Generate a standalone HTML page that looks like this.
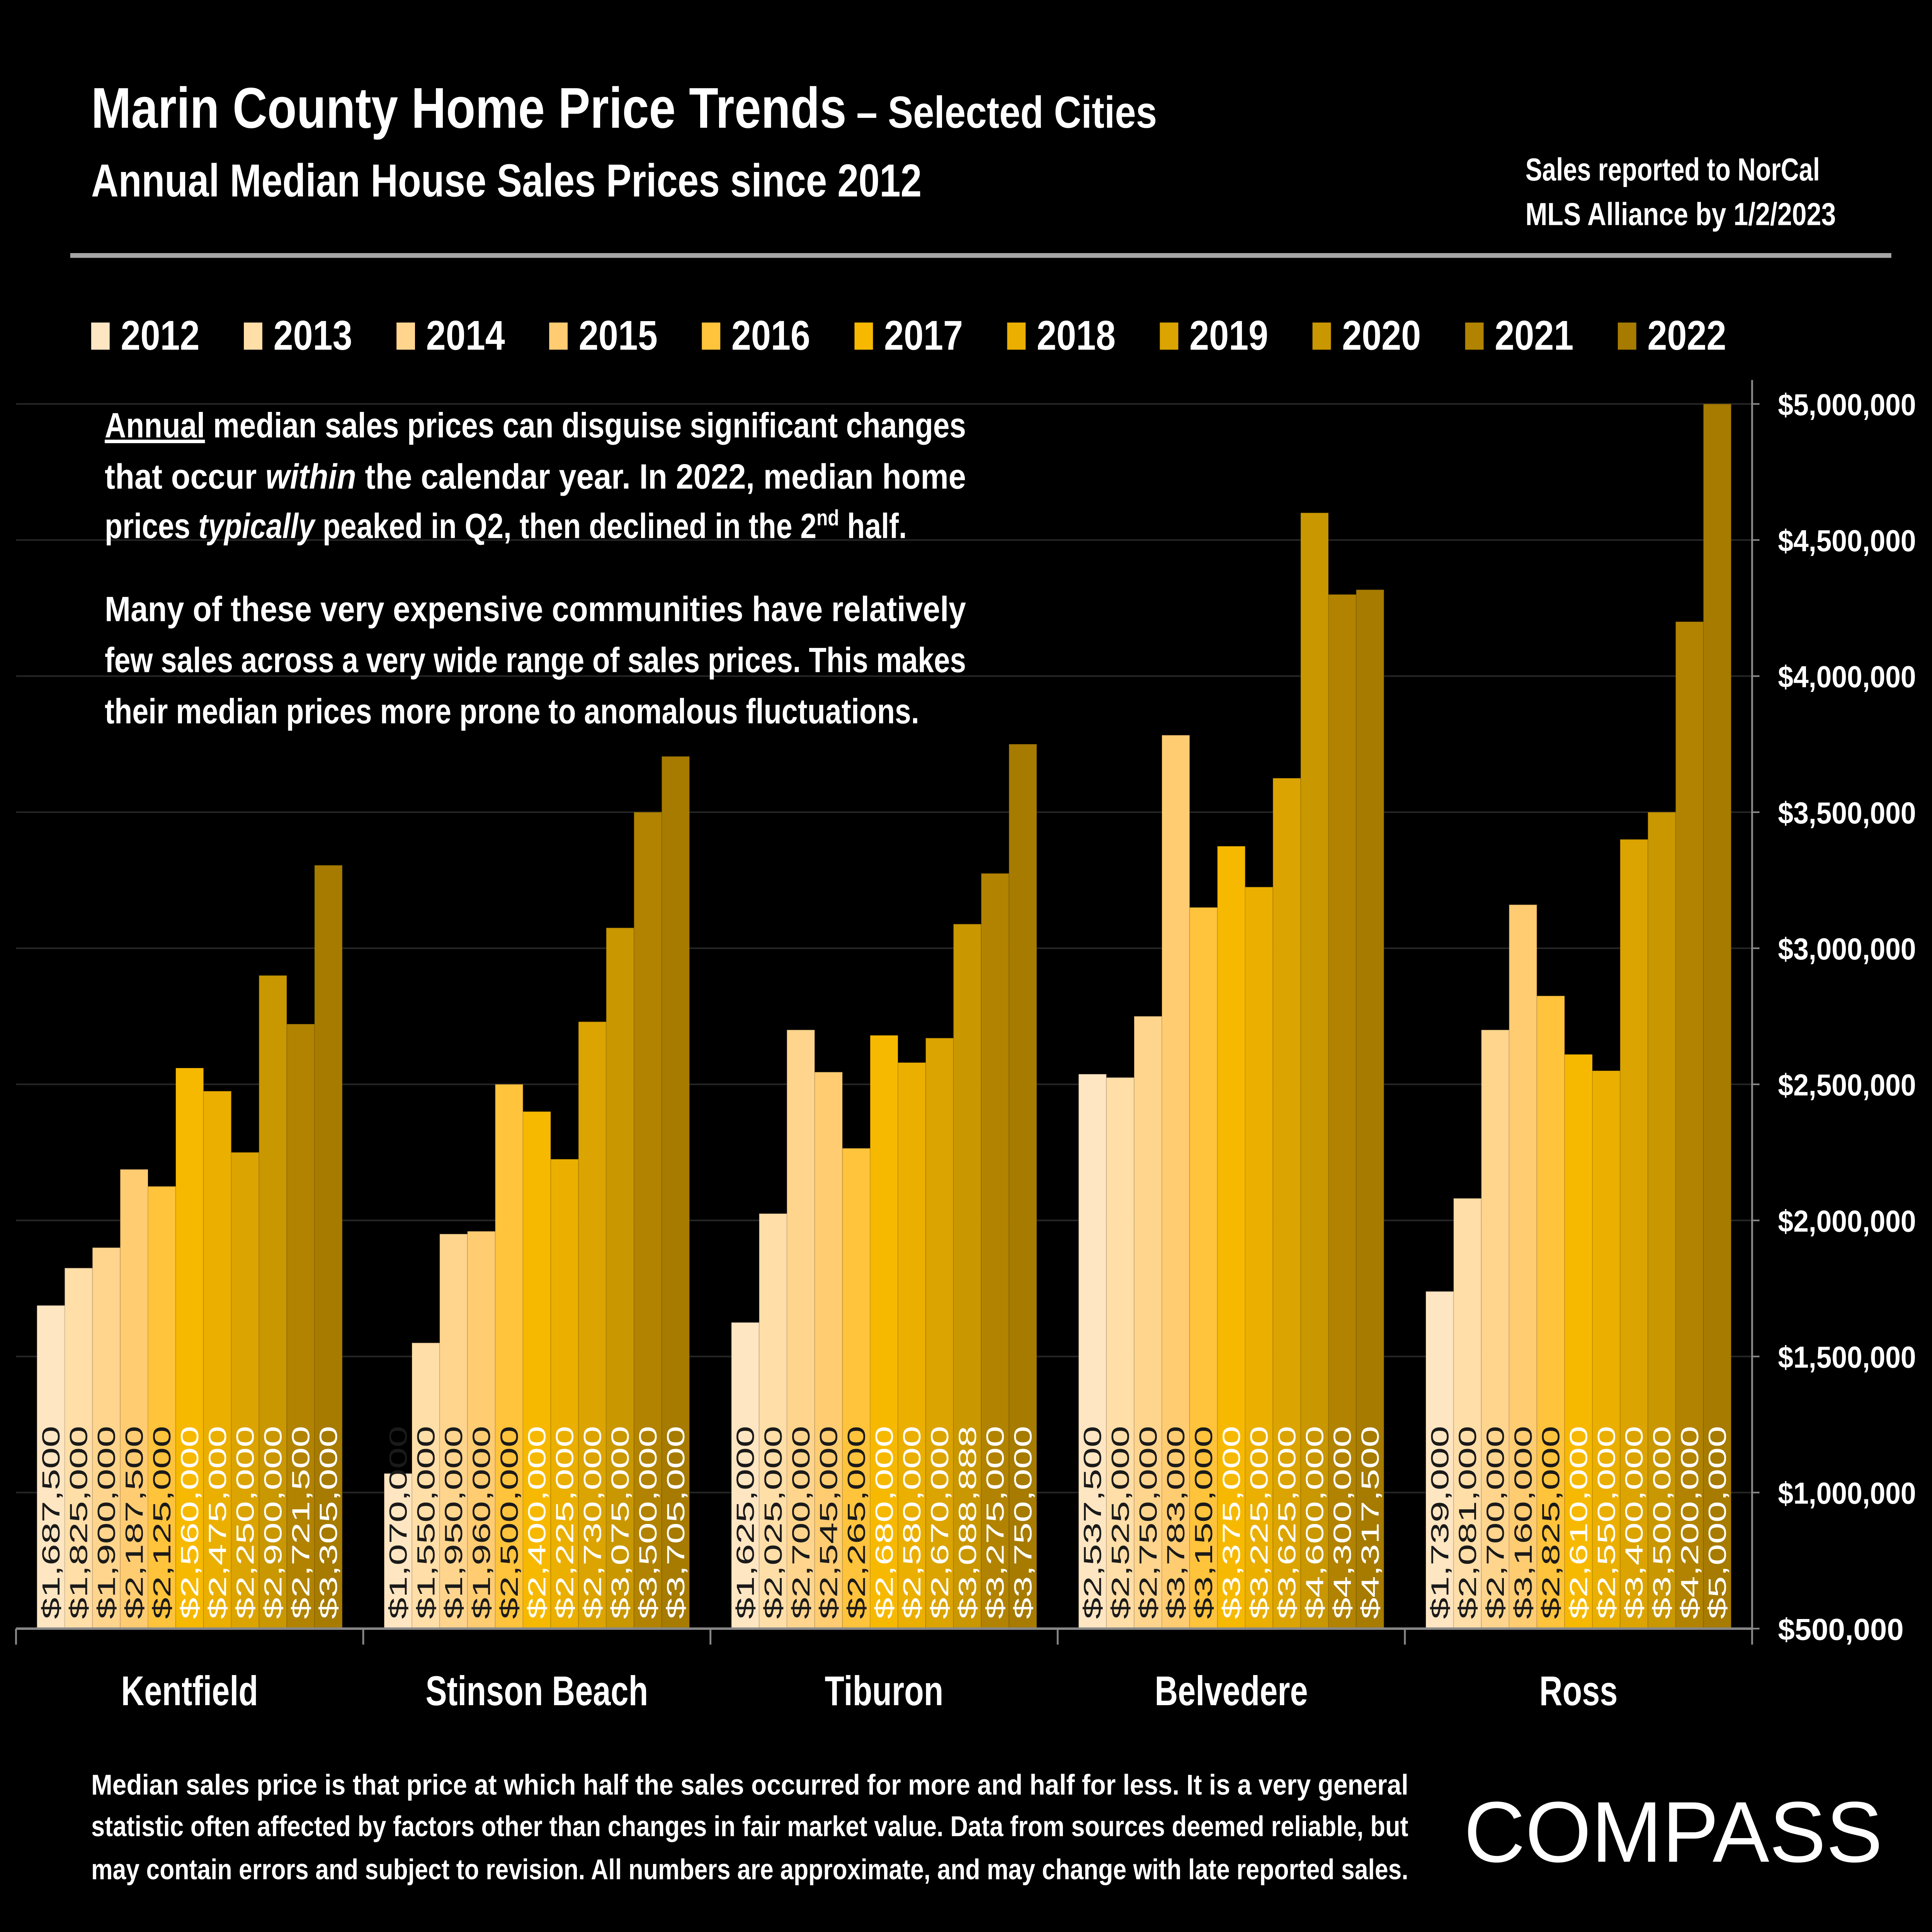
<!DOCTYPE html>
<html><head><meta charset="utf-8"><style>
html,body{margin:0;padding:0;background:#000;width:100%;height:100%;overflow:hidden;}
svg{display:block;width:100vw;height:100vh;}
text{font-family:"Liberation Sans",sans-serif;font-weight:bold;}
</style></head><body>
<svg id="chart" viewBox="0 0 1568 1210" preserveAspectRatio="none" xmlns="http://www.w3.org/2000/svg">
<rect width="1568" height="1210" fill="#000"/>
<text x="74" y="80" fill="#fff" font-size="36" textLength="613" lengthAdjust="spacingAndGlyphs">Marin County Home Price Trends</text>
<text x="695" y="80" fill="#fff" font-size="28" textLength="244" lengthAdjust="spacingAndGlyphs">– Selected Cities</text>
<text x="74" y="123" fill="#fff" font-size="29" textLength="674" lengthAdjust="spacingAndGlyphs">Annual Median House Sales Prices since 2012</text>
<text x="1238" y="113" fill="#fff" font-size="20" textLength="239" lengthAdjust="spacingAndGlyphs">Sales reported to NorCal</text>
<text x="1238" y="141" fill="#fff" font-size="20" textLength="252" lengthAdjust="spacingAndGlyphs">MLS Alliance by 1/2/2023</text>
<line x1="57" y1="160" x2="1535" y2="160" stroke="#a6a6a6" stroke-width="3"/>
<g id="grid"></g>
<g id="legend"></g>
<g id="bars"></g>
<g id="axes"></g>
<g fill="#fff" font-size="22">
<text x="85" y="274" textLength="699" lengthAdjust="spacingAndGlyphs"><tspan text-decoration="underline">Annual</tspan> median sales prices can disguise significant changes</text>
<text x="85" y="306" textLength="699" lengthAdjust="spacingAndGlyphs">that occur <tspan font-style="italic">within</tspan> the calendar year. In 2022, median home</text>
<text x="85" y="337" textLength="651" lengthAdjust="spacingAndGlyphs">prices <tspan font-style="italic">typically</tspan> peaked in Q2, then declined in the 2<tspan font-size="14" dy="-8">nd</tspan><tspan dy="8"> half.</tspan></text>
<text x="85" y="389" textLength="699" lengthAdjust="spacingAndGlyphs">Many of these very expensive communities have relatively</text>
<text x="85" y="421" textLength="699" lengthAdjust="spacingAndGlyphs">few sales across a very wide range of sales prices. This makes</text>
<text x="85" y="453" textLength="661" lengthAdjust="spacingAndGlyphs">their median prices more prone to anomalous fluctuations.</text>
</g>
<g fill="#fff" font-size="18">
<text x="74" y="1124" textLength="1069" lengthAdjust="spacingAndGlyphs">Median sales price is that price at which half the sales occurred for more and half for less. It is a very general</text>
<text x="74" y="1150" textLength="1069" lengthAdjust="spacingAndGlyphs">statistic often affected by factors other than changes in fair market value. Data from sources deemed reliable, but</text>
<text x="74" y="1177" textLength="1069" lengthAdjust="spacingAndGlyphs">may contain errors and subject to revision. All numbers are approximate, and may change with late reported sales.</text>
</g>
<text x="1188" y="1166" fill="#fff" font-size="54" style="font-weight:normal" textLength="340" lengthAdjust="spacingAndGlyphs">COMPASS</text>
</svg>
<script>
const cities = ["Kentfield","Stinson Beach","Tiburon","Belvedere","Ross"];
const years = ["2012","2013","2014","2015","2016","2017","2018","2019","2020","2021","2022"];
const kentfield = [1687500,1825000,1900000,2187500,2125000,2560000,2475000,2250000,2900000,2721500,3305000];
const stinson = [1070000,1550000,1950000,1960000,2500000,2400000,2225000,2730000,3075000,3500000,3705000];
const tiburon = [1625000,2025000,2700000,2545000,2265000,2680000,2580000,2670000,3088888,3275000,3750000];
const belvedere = [2537500,2525000,2750000,3783000,3150000,3375000,3225000,3625000,4600000,4300000,4317500];
const ross = [1739000,2081000,2700000,3160000,2825000,2610000,2550000,3400000,3500000,4200000,5000000];
const yTicks = [500000,1000000,1500000,2000000,2500000,3000000,3500000,4000000,4500000,5000000];
const colors = ["#FFE6C2","#FFDEA8","#FFD58E","#FFCC72","#FFC33C","#F7B900","#EBAF00","#DCA400","#C99700","#B28300","#A67B00"];
const series = [kentfield,stinson,tiburon,belvedere,ross];
const NS="http://www.w3.org/2000/svg";
const svg=document.getElementById("chart");
const X0=13,X1=1422,Y0=1020,Y1=253,VMIN=500000,VMAX=5000000;
function y(v){return Y0-(v-VMIN)/(VMAX-VMIN)*(Y0-Y1);}
const gw=(X1-X0)/cities.length, pad=17, bw=(gw-2*pad)/years.length;
function x(ci,yi){return X0+ci*gw+pad+yi*bw;}
function mk(tag,attrs,parent){const e=document.createElementNS(NS,tag);for(const k in attrs)e.setAttribute(k,attrs[k]);parent.appendChild(e);return e;}
function fmt(v){return "$"+v.toLocaleString("en-US");}
const grid=document.getElementById("grid"),bars=document.getElementById("bars"),axes=document.getElementById("axes"),legend=document.getElementById("legend");
yTicks.forEach(t=>{
  if(t>VMIN){const g=mk("line",{x1:X0,x2:X1,y1:y(t),y2:y(t),stroke:"#262626","stroke-width":1},grid);
  
  }
  const tk=mk("line",{x1:X1,x2:X1+6,y1:y(t),y2:y(t),stroke:"#888","stroke-width":1},axes);
  
  
  const l=mk("text",{x:1443,y:y(t)+7,fill:"#fff","font-size":19,textLength:t===500000?102:112,lengthAdjust:"spacingAndGlyphs"},axes);
  l.textContent=fmt(t);
  
  
});
const ax=mk("line",{x1:X1,x2:X1,y1:238,y2:Y0,stroke:"#888","stroke-width":1.5},axes);


const xa=mk("line",{x1:X0,x2:X1,y1:Y0,y2:Y0,stroke:"#888","stroke-width":1.5},axes);


for(let i=0;i<=cities.length;i++){
  const t=mk("line",{x1:X0+i*gw,x2:X0+i*gw,y1:Y0,y2:Y0+10,stroke:"#888","stroke-width":1.5},axes);
  
  
}
cities.forEach((c,ci)=>{
  const l=mk("text",{x:X0+ci*gw+gw/2,y:1068,fill:"#fff","font-size":26,"text-anchor":"middle"},axes);
  l.textContent=c;
  
  
  series[ci].forEach((v,yi)=>{
    const r=mk("rect",{x:x(ci,yi),y:y(v),width:bw,height:Y0-y(v),fill:colors[yi],stroke:"rgba(0,0,0,0.12)","stroke-width":0.6},bars);
    
    
  });
  series[ci].forEach((v,yi)=>{
    const cx=x(ci,yi)+bw/2+7, by=1014;
    const t=mk("text",{x:cx,y:by,transform:"rotate(-90 "+cx+" "+by+")",fill:yi<5?"#1a1a1a":"#fff","font-size":20,style:"font-weight:normal",textLength:121,lengthAdjust:"spacingAndGlyphs"},bars);
    t.textContent=fmt(v);
    
    
  });
});
years.forEach((yr,i)=>{
  const lx=74+i*123.9;
  const s=mk("rect",{x:lx,y:202,width:15,height:17,fill:colors[i]},legend);
  
  
  const t=mk("text",{x:lx+24,y:219,fill:"#fff","font-size":26,textLength:64,lengthAdjust:"spacingAndGlyphs"},legend);
  t.textContent=yr;
  
  
});
</script>
</body></html>
